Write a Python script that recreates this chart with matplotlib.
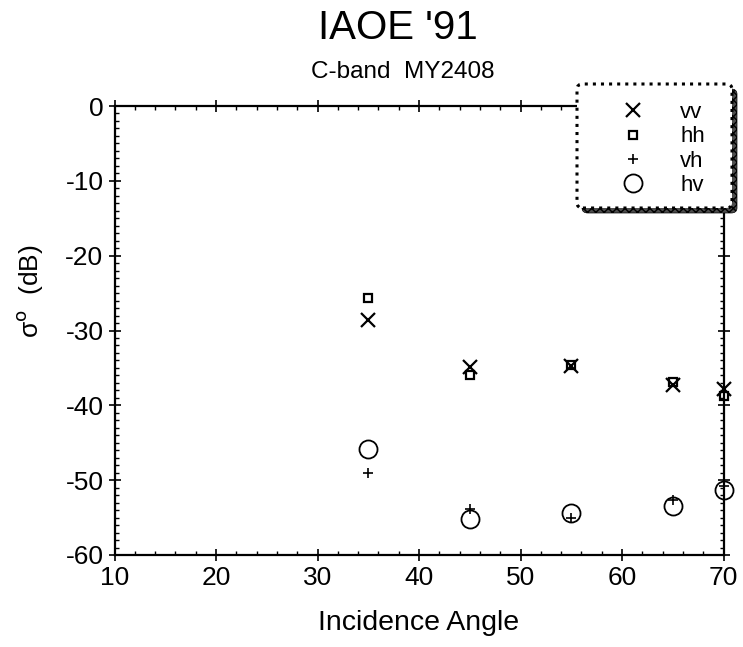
import matplotlib.pyplot as plt
from matplotlib.patches import FancyBboxPatch
from matplotlib.ticker import MultipleLocator

plt.rcParams['font.family'] = ['Liberation Sans', 'DejaVu Sans']
plt.rcParams['axes.unicode_minus'] = False

# incidence angles and backscatter per polarisation
angle = [35, 45, 55, 65, 70]
vv = [-28.6, -34.9, -34.7, -37.3, -37.8]
hh = [-25.6, -35.9, -34.6, -36.9, -38.7]
vh = [-49.0, -53.8, -55.0, -52.6, -50.8]
hv = [-45.9, -55.2, -54.4, -53.5, -51.3]

W, H = 743, 647
fig = plt.figure(figsize=(W / 100, H / 100), dpi=100)
ax = fig.add_axes([114.5 / W, 1 - 555 / H, 609 / W, 449 / H])

ax.plot(angle, vv, 'x', color='black', ms=10, mew=1.6, label='vv', clip_on=False)
ax.plot(angle, hh, 's', color='black', mfc='none', ms=6, mew=1.6, label='hh', clip_on=False)
ax.plot(angle, vh, '+', color='black', ms=7, mew=1.2, label='vh', clip_on=False)
ax.plot(angle, hv, 'o', color='black', mfc='none', ms=13, mew=1.3, label='hv', clip_on=False)

ax.set_xlim(10, 70)
ax.set_ylim(-60, 0)
ax.xaxis.set_major_locator(MultipleLocator(10))
ax.xaxis.set_minor_locator(MultipleLocator(2))
ax.yaxis.set_major_locator(MultipleLocator(10))
ax.yaxis.set_minor_locator(MultipleLocator(1))
ax.tick_params(which='major', direction='inout', length=9, width=1.2,
               top=True, right=True, labelsize=19)
ax.tick_params(which='minor', direction='in', length=3, width=1.0, top=True, right=True)
for s in ax.spines.values():
    s.set_linewidth(1.6)

ax.set_xlabel('Incidence Angle', fontsize=20.5, labelpad=14)
fig.text(30 / W, 1 - 291 / H, 'σ$^{\\mathrm{o}}$  (dB)', rotation=90,
         ha='center', va='center', fontsize=19)

fig.text(398 / W, 1 - 28 / H, "IAOE '91", ha='center', va='center', fontsize=29)
fig.text(403 / W, 1 - 72 / H, 'C-band  MY2408', ha='center', va='center', fontsize=17.5)

# legend box with hatched drop shadow
bx, by, bw, bh = 577, 84, 155, 124
shadow = FancyBboxPatch(((bx + 5) / W, 1 - (by + bh + 5) / H), bw / W, bh / H,
                        transform=fig.transFigure, boxstyle='round,pad=0,rounding_size=0.008',
                        facecolor='0.3', edgecolor='black', hatch='xxxx', lw=0.5, zorder=5)
fig.patches.append(shadow)
box = FancyBboxPatch((bx / W, 1 - (by + bh) / H), bw / W, bh / H,
                     transform=fig.transFigure, boxstyle='round,pad=0,rounding_size=0.008',
                     facecolor='white', edgecolor='black', linestyle=':', lw=2.2, zorder=6)
fig.patches.append(box)
leg = fig.legend(loc='center', bbox_to_anchor=((bx + bw / 2 + 9) / W, 1 - (by + 65) / H),
                 frameon=False, fontsize=16, handletextpad=1.6, labelspacing=0.15,
                 handlelength=1.0)
leg.set_zorder(7)

fig.savefig('out.png', dpi=100)
